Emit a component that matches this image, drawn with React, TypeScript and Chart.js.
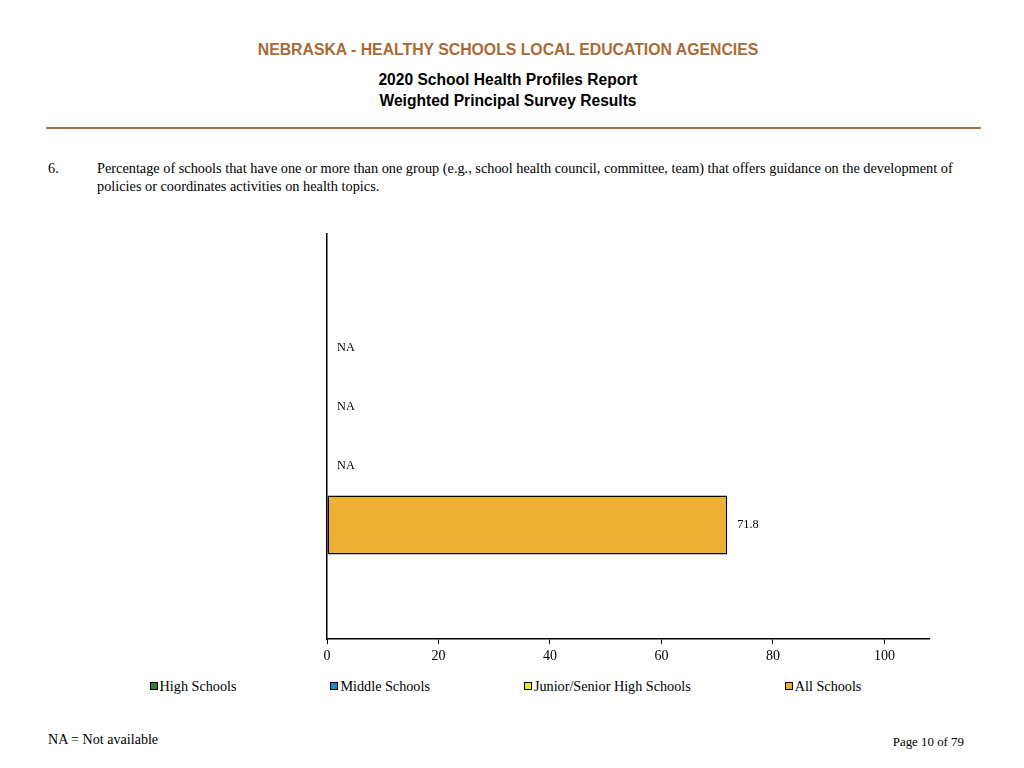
import React, { useEffect, useRef } from "react";
import { Chart, registerables } from "chart.js";

Chart.register(...registerables);

const categories: string[] = [""];
const seriesNames: string[] = ["High Schools", "Middle Schools", "Junior/Senior High Schools", "All Schools"];
const seriesValues: (number | null)[] = [null, null, null, 71.8];
const seriesColors: string[] = ["#2E7D3E", "#1E88C8", "#EEE81E", "#EEB030"];
const xTickValues: number[] = [0, 20, 40, 60, 80, 100];

const SERIF = '"Liberation Serif", "Times New Roman", serif';
const SANS = '"Liberation Sans", Arial, sans-serif';

const valueLabels = {
  id: "valueLabels",
  afterDatasetsDraw(chart: any) {
    const ctx = chart.ctx;
    const xs = chart.scales.x;
    ctx.save();
    ctx.font = `12.3px ${SERIF}`;
    ctx.fillStyle = "#000";
    ctx.textAlign = "left";
    ctx.textBaseline = "middle";
    chart.data.datasets.forEach((ds: any, i: number) => {
      const meta = chart.getDatasetMeta(i);
      const el: any = meta.data[0];
      if (!el) return;
      const v = ds.data[0];
      const y = el.y;
      if (v === null || v === undefined) {
        ctx.fillText("NA", xs.getPixelForValue(0) + 10, y);
      } else {
        ctx.fillText(String(v), xs.getPixelForValue(v) + 10, y);
      }
    });
    ctx.restore();
  },
};

export default function App() {
  const ref = useRef<HTMLCanvasElement | null>(null);

  useEffect(() => {
    if (!ref.current) return;
    const chart = new Chart(ref.current, {
      type: "bar",
      data: {
        labels: categories,
        datasets: seriesNames.map((name, i) => ({
          label: name,
          data: [seriesValues[i]],
          backgroundColor: seriesColors[i],
          borderColor: "#000",
          borderWidth: 1.5,
          borderSkipped: false,
          barPercentage: 1,
          categoryPercentage: 0.582,
        })),
      },
      options: {
        indexAxis: "y",
        animation: false,
        responsive: false,
        layout: { padding: { left: 327, right: 95, top: 14, bottom: 1 } },
        plugins: {
          legend: { display: false },
          tooltip: { enabled: false },
          title: { display: false },
        },
        scales: {
          x: {
            type: "linear",
            min: 0,
            max: 108,
            afterBuildTicks: (scale: any) => {
              scale.ticks = xTickValues.map((v) => ({ value: v }));
            },
            ticks: {
              color: "#000",
              font: { family: SERIF, size: 14 },
              padding: 4,
              maxRotation: 0,
            },
            grid: {
              display: true,
              drawOnChartArea: false,
              drawTicks: true,
              tickLength: 5,
              color: "#000",
              lineWidth: 1,
            },
            border: { display: true, color: "#000", width: 1.5 },
          },
          y: {
            type: "category",
            ticks: { display: false },
            grid: { display: false, drawTicks: false },
            border: { display: true, color: "#000", width: 1.5 },
          },
        },
      },
      plugins: [valueLabels],
    });
    return () => chart.destroy();
  }, []);

  return (
    <div style={{ position: "absolute", left: 0, top: 0, width: 1024, height: 768, background: "#fff", overflow: "hidden" }}>
      <div style={{ position: "absolute", left: 0, width: 1016, top: 40, textAlign: "center", fontFamily: SANS, fontWeight: "bold", fontSize: 15.8, color: "#A86B38", lineHeight: "20px" }}>
        NEBRASKA - HEALTHY SCHOOLS LOCAL EDUCATION AGENCIES
      </div>
      <div style={{ position: "absolute", left: 0, width: 1016, top: 69, textAlign: "center", fontFamily: SANS, fontWeight: "bold", fontSize: 15.6, color: "#000", lineHeight: "21px" }}>
        <div>2020 School Health Profiles Report</div>
        <div>Weighted Principal Survey Results</div>
      </div>
      <div style={{ position: "absolute", left: 46, width: 935, top: 127, height: 2, background: "#A8703A" }} />
      <div style={{ position: "absolute", left: 48, top: 159, fontFamily: SERIF, fontSize: 14.3, color: "#000", lineHeight: "18px" }}>6.</div>
      <div style={{ position: "absolute", left: 97, top: 159, width: 870, fontFamily: SERIF, fontSize: 14.3, color: "#000", lineHeight: "18px" }}>
        Percentage of schools that have one or more than one group (e.g., school health council, committee, team) that offers guidance on the development of policies or coordinates activities on health topics.
      </div>
      <div style={{ position: "absolute", left: 0, top: 220 }}>
        <canvas ref={ref} width={1024} height={450} style={{ display: "block", width: 1024, height: 450 }} />
      </div>
      <div style={{ position: "absolute", left: 0, width: 1011, top: 677, display: "flex", justifyContent: "center", gap: 94, fontFamily: SERIF, fontSize: 14.2, color: "#000", lineHeight: "18px" }}>
        {seriesNames.map((name, i) => (
          <div key={name} style={{ display: "flex", alignItems: "center" }}>
            <span style={{ display: "inline-block", width: 6, height: 6, border: "1px solid #000", background: seriesColors[i], marginRight: 2 }} />
            <span>{name}</span>
          </div>
        ))}
      </div>
      <div style={{ position: "absolute", left: 48, top: 730, fontFamily: SERIF, fontSize: 14.1, color: "#000", lineHeight: "18px" }}>NA = Not available</div>
      <div style={{ position: "absolute", right: 60, top: 734, fontFamily: SERIF, fontSize: 12.9, color: "#000", lineHeight: "16px" }}>Page 10 of 79</div>
    </div>
  );
}
